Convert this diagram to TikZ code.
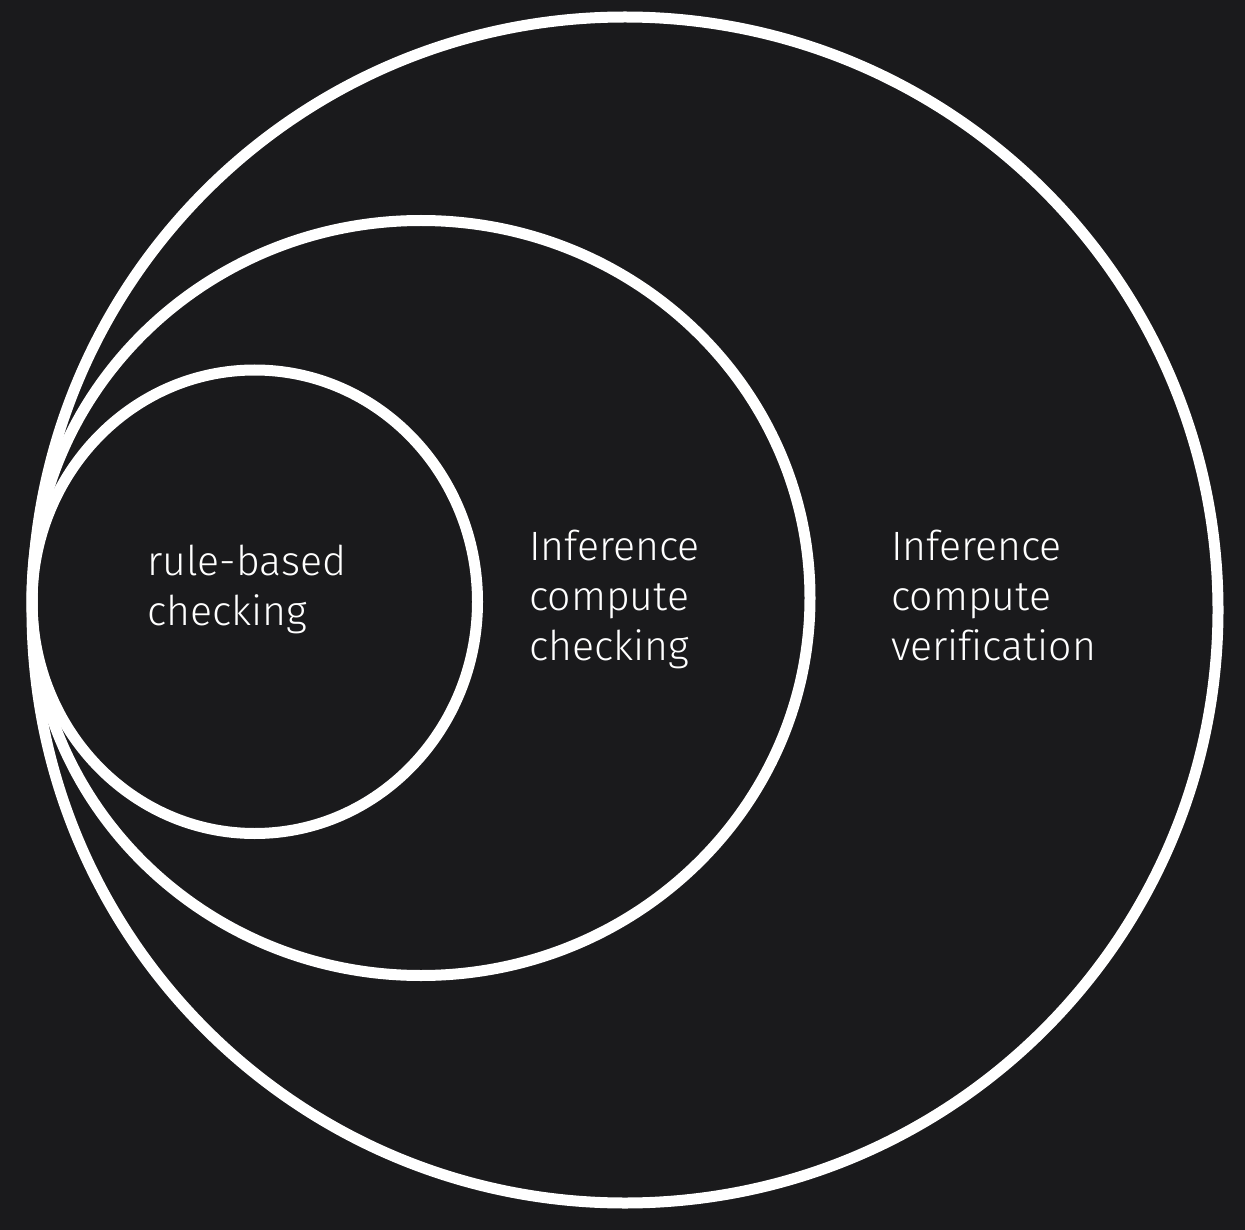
\documentclass[tikz,border=0pt]{standalone}
\usepackage{fontspec}
\setmainfont{Fira Sans}[UprightFont=* Light, Ligatures=NoCommon]
\definecolor{bg}{RGB}{26,26,28}
\begin{document}
\begin{tikzpicture}[x=1pt,y=-1pt,
  ring/.style={draw=white,line width=11pt},
  label/.style={text=white,anchor=base west,align=left,inner sep=0pt,
    font=\fontsize{41}{50}\selectfont}]
  \fill[bg] (0,0) rectangle (1245,1230);
  \useasboundingbox (0,0) rectangle (1245,1230);
  % nested sets, all touching on the left
  \draw[ring] (625,610) circle [radius=593];
  \draw[ring] (421,598) ellipse [x radius=389, y radius=377.5];
  \draw[ring] (254.75,601.75) ellipse [x radius=222.75, y radius=231.75];
  % labels (base anchor sits on the last line)
  \node[label] (rule) at (147,625) {rule-based\\checking};
  \node[label] (icc) at (529,660) {Inference\\compute\\checking};
  \node[label] (icv) at (891,660) {Inference\\compute\\verification};
\end{tikzpicture}
\end{document}
